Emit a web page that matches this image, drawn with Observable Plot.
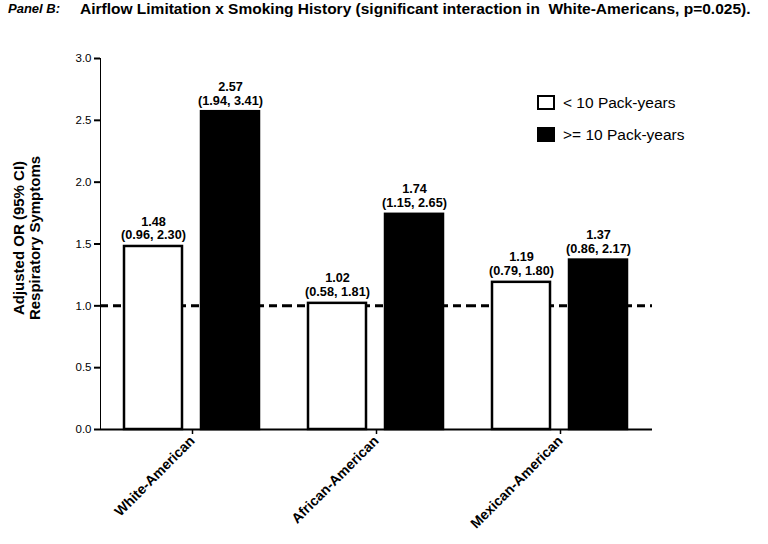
<!DOCTYPE html>
<html>
<head>
<meta charset="utf-8">
<script src="https://cdn.jsdelivr.net/npm/d3@7"></script>
<script src="https://cdn.jsdelivr.net/npm/@observablehq/plot@0.6"></script>
<style>
  html, body { margin: 0; padding: 0; background: #fff; }
  #wrap { position: relative; width: 768px; height: 544px; font-family: "Liberation Sans", Arial, sans-serif; color: #000; }
  #title { height: 40px; position: relative; font-weight: bold; white-space: pre; line-height: 18px; }
  #title .p { position: absolute; left: 8px; top: 0px; font-style: italic; font-size: 13px; }
  #title .t { position: absolute; left: 80px; top: 0px; font-size: 15.5px; }
  #ylab { position: absolute; left: 27px; top: 238px; transform: translate(-50%, -50%) rotate(-90deg); font-weight: bold; font-size: 15px; text-align: center; line-height: 16px; white-space: nowrap; }
  #legend { position: absolute; left: 537px; top: 94px; font-size: 15.5px; }
  #legend .row { display: flex; align-items: center; height: 17px; margin-bottom: 15px; }
  #legend .sw { width: 18px; height: 15px; box-sizing: border-box; border: 2.5px solid #000; margin-right: 8px; }
</style>
</head>
<body>
<div id="wrap">
  <div id="title"><span class="p">Panel B:</span><span class="t">Airflow Limitation x Smoking History (significant interaction in  White-Americans, p=0.025).</span></div>
  <div id="chart"></div>
  <div id="ylab">Adjusted OR (95% CI)<br>Respiratory Symptoms</div>
  <div id="legend"></div>
</div>
<script>
const groups = ["White-American", "African-American", "Mexican-American"];
const series = ["< 10 Pack-years", ">= 10 Pack-years"];
const seriesFill = ["white", "black"];
const orLow = [1.48, 1.02, 1.19];      // < 10 pack-years
const orHigh = [2.57, 1.74, 1.37];     // >= 10 pack-years
const ciLow = ["(0.96, 2.30)", "(0.58, 1.81)", "(0.79, 1.80)"];
const ciHigh = ["(1.94, 3.41)", "(1.15, 2.65)", "(0.86, 2.17)"];
const yTicks = [0, 0.5, 1.0, 1.5, 2.0, 2.5, 3.0];
const refLine = [1];

const data = [];
groups.forEach((g, i) => {
  data.push({group: g, series: series[0], value: orLow[i], ci: ciLow[i]});
  data.push({group: g, series: series[1], value: orHigh[i], ci: ciHigh[i]});
});

const chart = Plot.plot({
  width: 768,
  height: 504,
  marginTop: 18,
  marginBottom: 115,
  marginLeft: 99,
  marginRight: 116,
  style: {fontFamily: "'Liberation Sans', Arial, sans-serif", fontSize: "11.5px", color: "black", background: "white"},
  fx: {domain: groups, padding: 0, label: null, axis: "bottom", tickRotate: -45, tickSize: 5, tickPadding: 4},
  x: {domain: series, paddingInner: 0.22, paddingOuter: 0.29, axis: null},
  y: {domain: [0, 3], ticks: yTicks, tickFormat: d3.format(".1f"), label: null, line: true, tickSize: 6, tickPadding: 3},
  color: {domain: series, range: seriesFill},
  marks: [
    Plot.ruleY(refLine, {stroke: "black", strokeWidth: 3, strokeDasharray: "8,5"}),
    Plot.barY(data, {fx: "group", x: "series", y: "value", fill: "series", stroke: "black", strokeWidth: 2.5, insetLeft: 1, insetRight: 1}),
    Plot.text(data, {fx: "group", x: "series", y: "value", text: d => d.value.toFixed(2) + "\n" + d.ci, lineAnchor: "bottom", dy: -7, lineHeight: 1.1, fontWeight: "bold", fontSize: 12.7}),
    Plot.ruleY([0], {stroke: "black", strokeWidth: 2})
  ]
});
document.getElementById("chart").appendChild(chart);

// style axes
const svg = d3.select(chart);
svg.selectAll('[aria-label^="y-axis"] path, [aria-label^="y-axis"] line').attr("stroke-width", 2).attr("stroke", "black");
svg.selectAll('[aria-label^="fx-axis"] path, [aria-label^="fx-axis"] line').attr("stroke-width", 1.5).attr("stroke", "black");
svg.selectAll('[aria-label^="fx-axis"] text').attr("font-weight", "bold").attr("font-size", "14px");
svg.selectAll('[aria-label^="fx-axis"]').attr("font-weight", "bold").attr("font-size", "14px");

// legend
const leg = d3.select("#legend");
series.forEach((s, i) => {
  const row = leg.append("div").attr("class", "row");
  row.append("div").attr("class", "sw").style("background", seriesFill[i]);
  row.append("span").text(s);
});
</script>
</body>
</html>
